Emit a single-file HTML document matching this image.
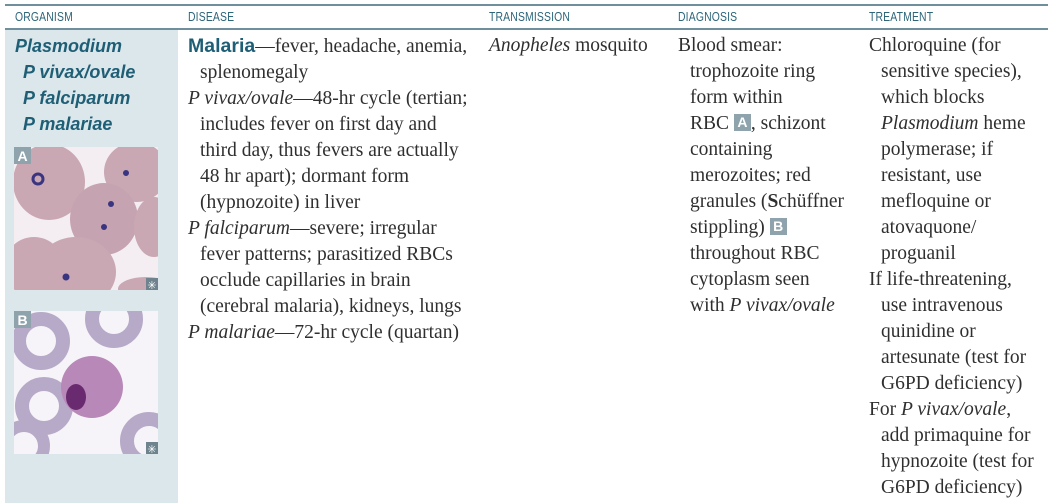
<!DOCTYPE html>
<html><head><meta charset="utf-8">
<style>
body{margin:0;width:1055px;height:503px;background:#fff;position:relative;overflow:hidden;font-family:"Liberation Serif",serif;color:#2f2f2f}
.rule{position:absolute;left:5px;width:1043px;background:#6f8f9c}
.hd{position:absolute;top:9px;font-family:"Liberation Sans",sans-serif;font-size:13px;color:#2d6579;letter-spacing:0.2px;transform:scaleX(0.8);transform-origin:left}
.col{position:absolute;top:33px;font-size:19.5px;line-height:26px;white-space:nowrap}
.col div{padding-left:12px}
.col div.f{padding-left:0}
.org{position:absolute;top:33px;left:15px;font-family:"Liberation Sans",sans-serif;font-weight:bold;font-style:italic;font-size:18px;line-height:26px;color:#1f5f76}
.org div{padding-left:8px}.org div.f{padding-left:0}
.box{display:inline-block;background:#8fa3ad;color:#fff;font-family:"Liberation Sans",sans-serif;font-weight:bold;font-size:14px;line-height:17px;width:17px;text-align:center;vertical-align:2px}
.mal{font-family:"Liberation Sans",sans-serif;font-weight:bold;color:#1f5f76}
</style></head><body>
<div class="rule" style="top:4px;height:2px"></div>
<div class="rule" style="top:28px;height:2px"></div>
<div style="position:absolute;left:5px;top:30px;width:173px;height:473px;background:#dce7ec"></div>
<div class="hd" style="left:15px">ORGANISM</div>
<div class="hd" style="left:188px">DISEASE</div>
<div class="hd" style="left:489px">TRANSMISSION</div>
<div class="hd" style="left:678px">DIAGNOSIS</div>
<div class="hd" style="left:869px">TREATMENT</div>

<div class="org">
<div class="f">Plasmodium</div><div>P vivax/ovale</div><div>P falciparum</div><div>P malariae</div>
</div>

<svg style="position:absolute;left:14px;top:147px" width="144" height="143">
<rect width="144" height="143" fill="#f4eef2"/>
<ellipse cx="35" cy="35" rx="36" ry="38" fill="#c9a7b3"/>
<ellipse cx="122" cy="25" rx="32" ry="30" fill="#c9a7b3"/>
<ellipse cx="90" cy="72" rx="34" ry="36" fill="#c6a3b0"/>
<ellipse cx="20" cy="120" rx="30" ry="30" fill="#c9a7b3"/>
<ellipse cx="62" cy="125" rx="40" ry="35" fill="#c9a7b3"/>
<ellipse cx="140" cy="80" rx="20" ry="30" fill="#c9a7b3"/>
<ellipse cx="132" cy="142" rx="28" ry="12" fill="#c9a7b3"/>
<circle cx="24" cy="32" r="5" fill="none" stroke="#3a3580" stroke-width="3"/>
<circle cx="112" cy="26" r="3" fill="#3a3580"/>
<circle cx="97" cy="57" r="3" fill="#3a3580"/><circle cx="90" cy="80" r="3" fill="#3a3580"/>
<circle cx="52" cy="130" r="3.5" fill="#3a3580"/>
<rect x="0" y="0" width="17" height="17" fill="#8fa3ad"/><text x="8.5" y="14" text-anchor="middle" font-family="Liberation Sans" font-weight="bold" font-size="14" fill="#fff">A</text>
<rect x="132" y="131" width="12" height="12" fill="#6e838d"/><text x="138" y="142" text-anchor="middle" font-family="DejaVu Sans" font-size="11" fill="#fff">✳</text>
</svg>
<svg style="position:absolute;left:14px;top:311px" width="144" height="143">
<rect width="144" height="143" fill="#f6f4f8"/>
<circle cx="27" cy="30" r="22" fill="none" stroke="#b6aac8" stroke-width="14"/>
<circle cx="100" cy="8" r="22" fill="none" stroke="#b6aac8" stroke-width="14"/>
<circle cx="30" cy="95" r="22" fill="none" stroke="#b6aac8" stroke-width="14"/>
<circle cx="10" cy="135" r="20" fill="none" stroke="#b6aac8" stroke-width="12"/>
<circle cx="135" cy="130" r="22" fill="none" stroke="#b6aac8" stroke-width="14"/>
<circle cx="78" cy="76" r="31" fill="#b888b8"/>
<ellipse cx="62" cy="86" rx="10" ry="13" fill="#6a2a70"/>
<rect x="0" y="0" width="17" height="17" fill="#8fa3ad"/><text x="8.5" y="14" text-anchor="middle" font-family="Liberation Sans" font-weight="bold" font-size="14" fill="#fff">B</text>
<rect x="132" y="131" width="12" height="12" fill="#6e838d"/><text x="138" y="142" text-anchor="middle" font-family="DejaVu Sans" font-size="11" fill="#fff">✳</text>
</svg>

<div class="col" style="left:188px">
<div class="f"><span class="mal">Malaria</span>—fever, headache, anemia,</div>
<div>splenomegaly</div>
<div class="f"><i>P vivax/ovale</i>—48-hr cycle (tertian;</div>
<div>includes fever on first day and</div>
<div>third day, thus fevers are actually</div>
<div>48 hr apart); dormant form</div>
<div>(hypnozoite) in liver</div>
<div class="f"><i>P falciparum</i>—severe; irregular</div>
<div>fever patterns; parasitized RBCs</div>
<div>occlude capillaries in brain</div>
<div>(cerebral malaria), kidneys, lungs</div>
<div class="f"><i>P malariae</i>—72-hr cycle (quartan)</div>
</div>

<div class="col" style="left:489px">
<div class="f"><i>Anopheles</i> mosquito</div>
</div>

<div class="col" style="left:678px">
<div class="f">Blood smear:</div>
<div>trophozoite ring</div>
<div>form within</div>
<div>RBC <span class="box">A</span>, schizont</div>
<div>containing</div>
<div>merozoites; red</div>
<div>granules (<b>S</b>chüffner</div>
<div>stippling) <span class="box">B</span></div>
<div>throughout RBC</div>
<div>cytoplasm seen</div>
<div>with <i>P vivax/ovale</i></div>
</div>

<div class="col" style="left:869px">
<div class="f">Chloroquine (for</div>
<div>sensitive species),</div>
<div>which blocks</div>
<div><i>Plasmodium</i> heme</div>
<div>polymerase; if</div>
<div>resistant, use</div>
<div>mefloquine or</div>
<div>atovaquone/</div>
<div>proguanil</div>
<div class="f">If life-threatening,</div>
<div>use intravenous</div>
<div>quinidine or</div>
<div>artesunate (test for</div>
<div>G6PD deficiency)</div>
<div class="f">For <i>P vivax/ovale</i>,</div>
<div>add primaquine for</div>
<div>hypnozoite (test for</div>
<div>G6PD deficiency)</div>
</div>
</body></html>
